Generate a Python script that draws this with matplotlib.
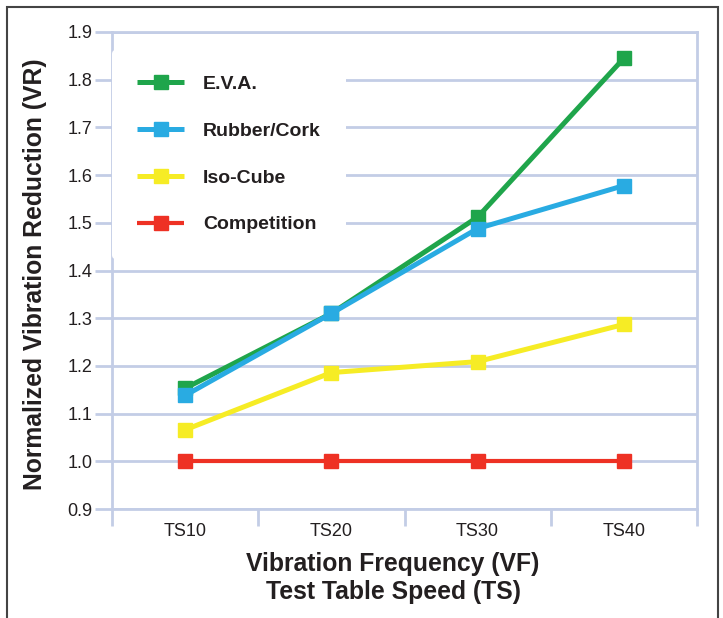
import matplotlib
matplotlib.use("Agg")
import matplotlib.pyplot as plt
from matplotlib.patches import Rectangle

categories = ["TS10", "TS20", "TS30", "TS40"]
eva = [1.153, 1.31, 1.512, 1.845]
rubber_cork = [1.138, 1.31, 1.488, 1.578]
iso_cube = [1.066, 1.186, 1.209, 1.287]
competition = [1.0, 1.0, 1.0, 1.0]
y_ticks = [0.9, 1.0, 1.1, 1.2, 1.3, 1.4, 1.5, 1.6, 1.7, 1.8, 1.9]

series = [
    ("E.V.A.", eva, "#1fa54b", 3.6),
    ("Rubber/Cork", rubber_cork, "#29abe2", 3.6),
    ("Iso-Cube", iso_cube, "#f6ec25", 3.6),
    ("Competition", competition, "#ee3124", 3.0),
]

grid_c = "#c3cde6"
text_c = "#231f20"
plt.rcParams["font.family"] = ["Liberation Sans", "DejaVu Sans"]

fig = plt.figure(figsize=(7.23, 6.18), dpi=100)
ax = fig.add_axes([112 / 723, 1 - 509 / 618, 585 / 723, 477 / 618])

x = list(range(len(categories)))
for label, vals, color, lw in series:
    ax.plot(x, vals, color=color, lw=lw, marker="s", markersize=9.5,
            label=label, zorder=3, solid_capstyle="butt")

ax.set_xlim(-0.5, len(categories) - 0.5)
ax.set_ylim(0.9, 1.9)
ax.set_yticks(y_ticks)
ax.set_yticklabels([f"{v:.1f}" for v in y_ticks], fontsize=13, color=text_c)
ax.set_xticks([i - 0.5 for i in range(len(categories) + 1)])
ax.set_xticklabels([])
ax.set_xticks(x, minor=True)
ax.set_xticklabels(categories, minor=True, fontsize=13, color=text_c)
ax.tick_params(axis="x", which="minor", length=0, pad=10)
ax.tick_params(axis="x", which="major", length=12, width=2, color=grid_c)
ax.tick_params(axis="y", length=12, width=2, color=grid_c, pad=2)

ax.grid(axis="y", color=grid_c, lw=2, zorder=0)
ax.set_axisbelow(True)
for sp in ax.spines.values():
    sp.set_color(grid_c)
    sp.set_linewidth(2)

ax.set_ylabel("Normalized Vibration Reduction (VR)", fontsize=17.8,
              fontweight="bold", color=text_c)
ax.yaxis.set_label_coords(-(112 - 35) / 585, (509 - 274) / 477)
ax.yaxis.label.set_va("center")
ax.set_xlabel("Vibration Frequency (VF)\nTest Table Speed (TS)", fontsize=17.8,
              fontweight="bold", color=text_c, linespacing=1.2)
ax.xaxis.set_label_coords((393 - 112) / 585, -(578 - 509) / 477)
ax.xaxis.label.set_va("center")

leg = ax.legend(loc="upper left", bbox_to_anchor=(0.0, 0.962), frameon=True,
                facecolor="white", edgecolor="none", framealpha=1,
                fontsize=14, handlelength=2.4, handletextpad=0.98,
                labelspacing=1.5, borderpad=1.3, borderaxespad=0)
for t in leg.get_texts():
    t.set_fontweight("bold")
    t.set_color(text_c)

fig.patches.append(Rectangle((7 / 723, -0.1), 711 / 723, 1.1 - 7 / 618,
                             transform=fig.transFigure, fill=False,
                             edgecolor="#444444", lw=1.5))

fig.savefig("out.png", dpi=100)
